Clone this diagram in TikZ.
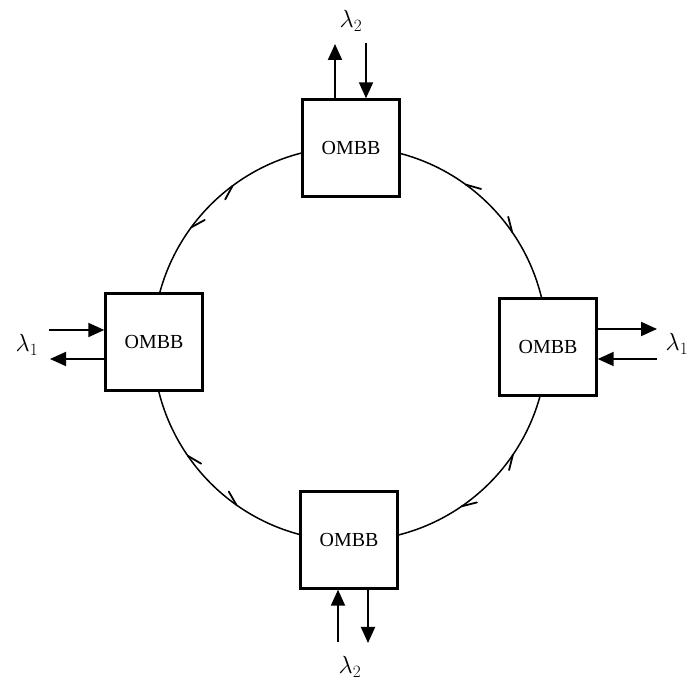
\documentclass[tikz,border=0pt]{standalone}
\usepackage{fontspec}
\setmainfont{Liberation Serif}
\usetikzlibrary{arrows.meta}

\begin{document}
\begin{tikzpicture}
    [x=1bp,y=1bp,
    ombb/.style={rectangle,draw=black,fill=white,line width=2.4bp,minimum width=97bp,minimum height=97bp,inner sep=0pt,font=\fontsize{20}{23}\selectfont},
    port/.style={line width=1.9bp,-{Triangle[length=16bp,width=14bp]}},
    ring/.style={line width=1.5bp},
    barb/.style={line width=1.8bp,line cap=round},
    wl/.style={font=\fontsize{25}{28}\selectfont}]

    \useasboundingbox (0,0) rectangle (691,687);
    %\draw[help lines,step=50] (0,0) grid (691,687);
    \coordinate (c) at (350,343);
    \draw[ring] (c) circle (197);
    \foreach \a/\d/\s in {126.6/-1/-1, 143.7/1/-1, 54/1/1, 34.6/-1/1,
                          214.6/-1/-1, 234.8/1/-1, 325.8/1/1, 304.5/-1/1}
        \draw[barb,shift={(c)}] (\a:197) -- ({\a-\d*4.2}:{197+\s*6});

    \node[ombb] (top) at (351,539) {OMBB};
    \node[ombb] (left) at (154,345) {OMBB};
    \node[ombb] (right) at (548,340) {OMBB};
    \node[ombb] (bottom) at (349,147) {OMBB};

    % wavelength ports
    \coordinate (topout) at (335,643);
    \coordinate (topin) at (366,644);
    \coordinate (leftin) at (49,357);
    \coordinate (leftout) at (50,328);
    \coordinate (rightout) at (657,358);
    \coordinate (rightin) at (657,328);
    \coordinate (bottomin) at (338,45);
    \coordinate (bottomout) at (368,44);

    \draw[port] (top.north -| topout) -- (topout);
    \draw[port] (topin) -- (top.north -| topin);
    \draw[port] (leftin) -- (left.west |- leftin);
    \draw[port] (left.west |- leftout) -- (leftout);
    \draw[port] (right.east |- rightout) -- (rightout);
    \draw[port] (rightin) -- (right.east |- rightin);
    \draw[port] (bottomin) -- (bottom.south -| bottomin);
    \draw[port] (bottom.south -| bottomout) -- (bottomout);

    \node[wl] (lamtop) at (351,666) {$\lambda_2$};
    \node[wl] (lamleft) at (27,342) {$\lambda_1$};
    \node[wl] (lamright) at (677,343) {$\lambda_1$};
    \node[wl] (lambottom) at (350,20) {$\lambda_2$};
\end{tikzpicture}
\end{document}
